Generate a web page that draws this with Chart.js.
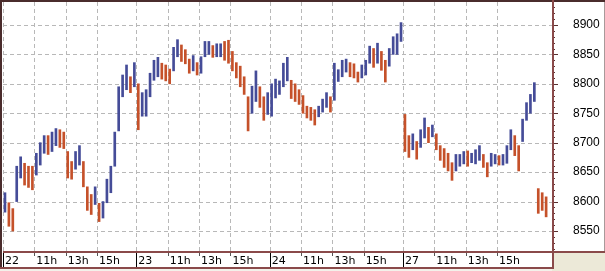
<!DOCTYPE html>
<html>
<head>
<meta charset="utf-8">
<script src="https://cdn.jsdelivr.net/npm/chart.js@4"></script>
<style>
  html, body { margin: 0; padding: 0; background: #fff; }
  canvas { display: block; }
</style>
</head>
<body>
<canvas id="chart" width="605" height="271"></canvas>
<script>
// sessions and axis labels
const dayLabels = ['22', '23', '24', '27', '28'];
const hourLabels = ['11h', '13h', '15h'];
const priceTicks = [8550, 8600, 8650, 8700, 8750, 8800, 8850, 8900];

// 15 minute bars, 9h00 - 17h30 (low / high)
const lo22 = [8582, 8558, 8550, 8600, 8640, 8628, 8624, 8620, 8645, 8662, 8682, 8680, 8685, 8695, 8692, 8690, 8640,
  8638, 8655, 8662, 8625, 8585, 8578, 8595, 8566, 8572, 8598, 8615, 8660, 8720, 8778, 8790, 8785, 8795];
const hi22 = [8615, 8598, 8588, 8660, 8676, 8665, 8660, 8660, 8682, 8700, 8712, 8712, 8718, 8724, 8722, 8718, 8685,
  8668, 8685, 8695, 8668, 8625, 8612, 8625, 8597, 8600, 8638, 8660, 8718, 8795, 8815, 8832, 8812, 8836];

const lo23 = [8722, 8745, 8745, 8778, 8806, 8812, 8808, 8805, 8800, 8822, 8846, 8838, 8834, 8818, 8822, 8815, 8818,
  8846, 8850, 8845, 8846, 8846, 8840, 8835, 8822, 8810, 8795, 8782, 8720, 8750, 8770, 8760, 8738, 8748];
const hi23 = [8800, 8785, 8790, 8818, 8840, 8845, 8835, 8832, 8825, 8862, 8875, 8866, 8858, 8842, 8848, 8836, 8846,
  8872, 8872, 8865, 8868, 8868, 8872, 8874, 8855, 8836, 8830, 8812, 8778, 8796, 8822, 8795, 8778, 8785];

const lo24 = [8745, 8776, 8782, 8795, 8805, 8775, 8770, 8765, 8750, 8742, 8738, 8730, 8744, 8752, 8760, 8752, 8772,
  8804, 8812, 8820, 8812, 8810, 8803, 8810, 8815, 8835, 8828, 8835, 8823, 8803, 8830, 8850, 8850, 8872];
const hi24 = [8800, 8808, 8805, 8835, 8845, 8806, 8800, 8790, 8780, 8762, 8760, 8756, 8762, 8774, 8785, 8778, 8835,
  8824, 8840, 8842, 8836, 8834, 8820, 8832, 8840, 8864, 8860, 8869, 8855, 8840, 8860, 8880, 8885, 8904];

const lo27 = [8685, 8675, 8688, 8672, 8692, 8708, 8700, 8710, 8688, 8670, 8658, 8652, 8636, 8652, 8660, 8664, 8660,
  8666, 8664, 8670, 8658, 8642, 8660, 8664, 8662, 8662, 8665, 8688, 8678, 8652, 8702, 8738, 8750, 8770];
const hi27 = [8748, 8712, 8715, 8702, 8722, 8742, 8726, 8730, 8715, 8695, 8690, 8682, 8666, 8680, 8680, 8685, 8686,
  8682, 8688, 8695, 8680, 8666, 8682, 8680, 8678, 8680, 8695, 8722, 8712, 8695, 8740, 8768, 8782, 8802];

const lo28 = [8580, 8585, 8574];
const hi28 = [8622, 8615, 8608];

const sessionLows = [lo22, lo23, lo24, lo27, lo28];
const sessionHighs = [hi22, hi23, hi24, hi27, hi28];

const SESSION_HOURS = 8.5;
const BAR_STEP = 0.25;

// build bars on a trading-hours axis (no overnight gaps)
const bars = [];
const colors = [];
let prevMid = null;
sessionLows.forEach((lows, d) => {
  lows.forEach((lo, j) => {
    const hi = sessionHighs[d][j];
    const mid = (lo + hi) / 2;
    bars.push({ x: d * SESSION_HOURS + (j + 0.5) * BAR_STEP, y: [lo, hi] });
    colors.push(prevMid === null || mid >= prevMid ? '#454c98' : '#c5512a');
    prevMid = mid;
  });
});

const xTickVals = [];
const xTickText = [];
dayLabels.slice(0, 4).forEach((lab, d) => {
  xTickVals.push(d * SESSION_HOURS);
  xTickText.push(lab);
  hourLabels.forEach((h, k) => {
    xTickVals.push(d * SESSION_HOURS + (k + 1) * 2);
    xTickText.push(h);
  });
});

const FRAME = '#8a4a4a';

const framePlugin = {
  id: 'frame',
  beforeDraw(chart) {
    const { ctx, chartArea: a, scales: { x, y }, width: W, height: H } = chart;
    ctx.save();
    ctx.fillStyle = '#fff';
    ctx.fillRect(0, 0, W, H);
    ctx.fillStyle = '#ece9d8';
    ctx.fillRect(a.right, a.bottom + 1, W - a.right, H - a.bottom);
    ctx.fillStyle = '#f3f1ea';
    ctx.fillRect(0, H - 2, a.right, 2);

    // dashed grid
    ctx.strokeStyle = '#b8b8b8';
    ctx.lineWidth = 1;
    ctx.setLineDash([4, 3]);
    ctx.beginPath();
    x.ticks.forEach(t => {
      const px = Math.round(x.getPixelForValue(t.value)) + 0.5;
      ctx.moveTo(px, a.top); ctx.lineTo(px, a.bottom);
    });
    y.ticks.forEach(t => {
      const py = Math.round(y.getPixelForValue(t.value)) + 0.5;
      ctx.moveTo(a.left, py); ctx.lineTo(a.right, py);
    });
    ctx.stroke();
    ctx.restore();
  },
  afterDraw(chart) {
    const { ctx, chartArea: a, scales: { x, y }, width: W, height: H } = chart;
    ctx.save();
    const line = (x1, y1, x2, y2) => { ctx.beginPath(); ctx.moveTo(x1, y1); ctx.lineTo(x2, y2); ctx.stroke(); };

    // x strip ticks: day separators full height, hours short
    ctx.lineWidth = 1;
    x.ticks.forEach((t, i) => {
      const px = Math.round(x.getPixelForValue(t.value)) + 0.5;
      if (i % 4 === 0) {
        ctx.strokeStyle = '#000';
        line(px, a.bottom, px, H - 3);
      } else {
        ctx.strokeStyle = '#555';
        line(px, a.bottom, px, a.bottom + 5);
      }
    });

    // y axis ticks, major every 50, minor every 10
    ctx.strokeStyle = '#5a3030';
    const step = (priceTicks[1] - priceTicks[0]) / 5;
    for (let v = Math.ceil(y.min / step) * step; v <= y.max; v += step) {
      const py = Math.round(y.getPixelForValue(v)) + 0.5;
      const len = priceTicks.includes(v) ? 6 : 3;
      line(a.right, py, a.right + len, py);
    }

    // frame lines
    ctx.strokeStyle = '#4a2c2c';
    ctx.lineWidth = 2;
    line(0, 1, W, 1);
    line(1, 0, 1, H - 3);
    ctx.strokeStyle = FRAME;
    line(a.right + 1, 0, a.right + 1, H - 2);
    line(a.left, a.bottom + 1, W, a.bottom + 1);
    line(0, H - 3, a.right + 1, H - 3);
    ctx.lineWidth = 1;
    ctx.strokeStyle = '#a89a9a';
    line(W - 0.5, 2, W - 0.5, a.bottom);
    ctx.restore();
  }
};

new Chart(document.getElementById('chart'), {
  type: 'bar',
  data: {
    datasets: [{
      data: bars,
      backgroundColor: colors,
      borderWidth: 0,
      barThickness: 2,
      grouped: false
    }]
  },
  options: {
    responsive: false,
    animation: false,
    devicePixelRatio: 1,
    layout: { padding: { left: 3, top: 2, right: 0, bottom: 0 } },
    plugins: { legend: { display: false }, tooltip: { enabled: false } },
    scales: {
      x: {
        type: 'linear',
        min: 0,
        max: 35,
        offset: false,
        grid: { display: false, drawTicks: false },
        border: { display: false },
        afterFit: s => { s.height = 20; s.paddingLeft = 0; s.paddingRight = 0; },
        afterBuildTicks: s => { s.ticks = xTickVals.map(v => ({ value: v })); },
        ticks: {
          autoSkip: false,
          maxRotation: 0,
          minRotation: 0,
          align: 'start',
          labelOffset: 2,
          padding: 4,
          color: '#000',
          font: { family: 'DejaVu Sans', size: 11 },
          callback: (v, i) => xTickText[i]
        }
      },
      y: {
        position: 'right',
        min: 8516,
        max: 8939,
        grid: { display: false, drawTicks: false },
        border: { display: false },
        afterFit: s => { s.width = 53; s.paddingTop = 0; s.paddingBottom = 0; },
        afterBuildTicks: s => { s.ticks = priceTicks.map(v => ({ value: v })); },
        ticks: {
          padding: 21,
          color: '#000',
          font: { family: 'Liberation Sans', size: 12 },
          callback: v => String(v)
        }
      }
    }
  },
  plugins: [framePlugin]
});
</script>
</body>
</html>
